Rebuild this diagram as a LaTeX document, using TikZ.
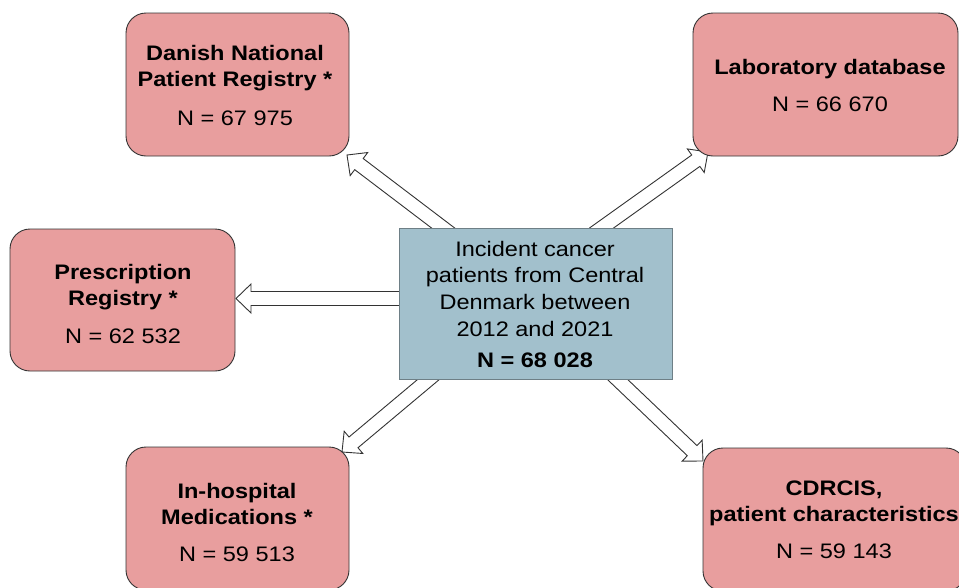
\documentclass[tikz,border=0pt]{standalone}
\usepackage{fontspec}
\setmainfont{Liberation Sans}[FakeStretch=1.12]
\usetikzlibrary{calc,backgrounds}
\definecolor{boxpink}{HTML}{E89E9E}
\definecolor{boxblue}{HTML}{A2C0CC}
\definecolor{edgec}{HTML}{333333}
\definecolor{cedge}{HTML}{6E7F86}
\tikzset{
  srcbox/.style={draw=edgec, line width=0.9pt, fill=boxpink, rounded corners=20pt, inner sep=0pt},
  centbox/.style={draw=cedge, line width=0.9pt, fill=boxblue, inner sep=0pt},
  arr/.style={draw=edgec, line width=0.9pt, fill=white, line join=miter},
  lbl/.style={anchor=base, inner sep=0pt, font=\fontsize{21}{25}\selectfont},
  blbl/.style={anchor=base, inner sep=0pt, font=\fontsize{21}{25}\selectfont\bfseries},
}
\newcommand\hollowarrow[2]{%
  \path ($(#2)!15pt!(#1)$) coordinate (hb);
  \draw[arr] ($(#1)!7pt!90:(#2)$) -- ($(hb)!7pt!90:(#2)$) -- ($(hb)!14.5pt!90:(#2)$)
     -- (#2) -- ($(hb)!14.5pt!-90:(#2)$) -- ($(hb)!7pt!-90:(#2)$) -- ($(#1)!7pt!-90:(#2)$);
}
\begin{document}
\begin{tikzpicture}[x=1pt,y=-1pt]
\useasboundingbox (0,0) rectangle (959,587);
\clip (0,0) rectangle (959,587);

% boxes
\node[srcbox, minimum width=223pt, minimum height=143pt] (dnpr) at (237.5,84.5) {};
\node[srcbox, minimum width=265pt, minimum height=143pt] (lab) at (825.5,84.5) {};
\node[srcbox, minimum width=225pt, minimum height=142pt] (presc) at (122.5,300) {};
\node[srcbox, minimum width=223pt, minimum height=143pt] (inhosp) at (237.5,518.5) {};
\node[srcbox, minimum width=263pt, minimum height=143pt] (cdrcis) at (834.5,519.5) {};
\node[centbox, minimum width=273pt, minimum height=151pt] (cohort) at (535.5,303.5) {};

% texts
\node[blbl] (dnpr1) at (235,60.7) {Danish National};
\node[blbl] (dnpr2) at (235,86.7) {Patient Registry *};
\node[lbl]  (dnpr3) at (235,125) {N = 67 975};

\node[blbl] (lab1) at (830,74) {Laboratory database};
\node[lbl]  (lab2) at (830,111) {N = 66 670};

\node[blbl] (presc1) at (123,279) {Prescription};
\node[blbl] (presc2) at (123,305) {Registry *};
\node[lbl]  (presc3) at (123,343.3) {N = 62 532};

\node[blbl] (inhosp1) at (237,498.3) {In-hospital};
\node[blbl] (inhosp2) at (237,524) {Medications *};
\node[lbl]  (inhosp3) at (237,561.7) {N = 59 513};

\node[blbl] (cdrcis1) at (834,495) {CDRCIS,};
\node[blbl] (cdrcis2) at (834,521) {patient characteristics};
\node[lbl]  (cdrcis3) at (834,558.3) {N = 59 143};

\node[lbl]  (coh1) at (535,256) {Incident cancer};
\node[lbl]  (coh2) at (535,282.3) {patients from Central};
\node[lbl]  (coh3) at (535,309.3) {Denmark between};
\node[lbl]  (coh4) at (535,336) {2012 and 2021};
\node[blbl] (coh5) at (535,367.3) {N = 68 028};

% arrow end points
\coordinate (s1) at (451,234);
\coordinate (t1) at (347,155);
\coordinate (s2) at (593.4,233.8);
\coordinate (t2) at (708,152);
\coordinate (s3) at (405,298.5);
\coordinate (t3) at (236,298.5);
\coordinate (s4) at (436.7,372.6);
\coordinate (t4) at (342,452);
\coordinate (s5) at (609.8,372.1);
\coordinate (t5) at (703,461);

\begin{scope}[on background layer]
\hollowarrow{s1}{t1}
\hollowarrow{s2}{t2}
\hollowarrow{s3}{t3}
\hollowarrow{s4}{t4}
\hollowarrow{s5}{t5}
\end{scope}
\end{tikzpicture}
\end{document}
